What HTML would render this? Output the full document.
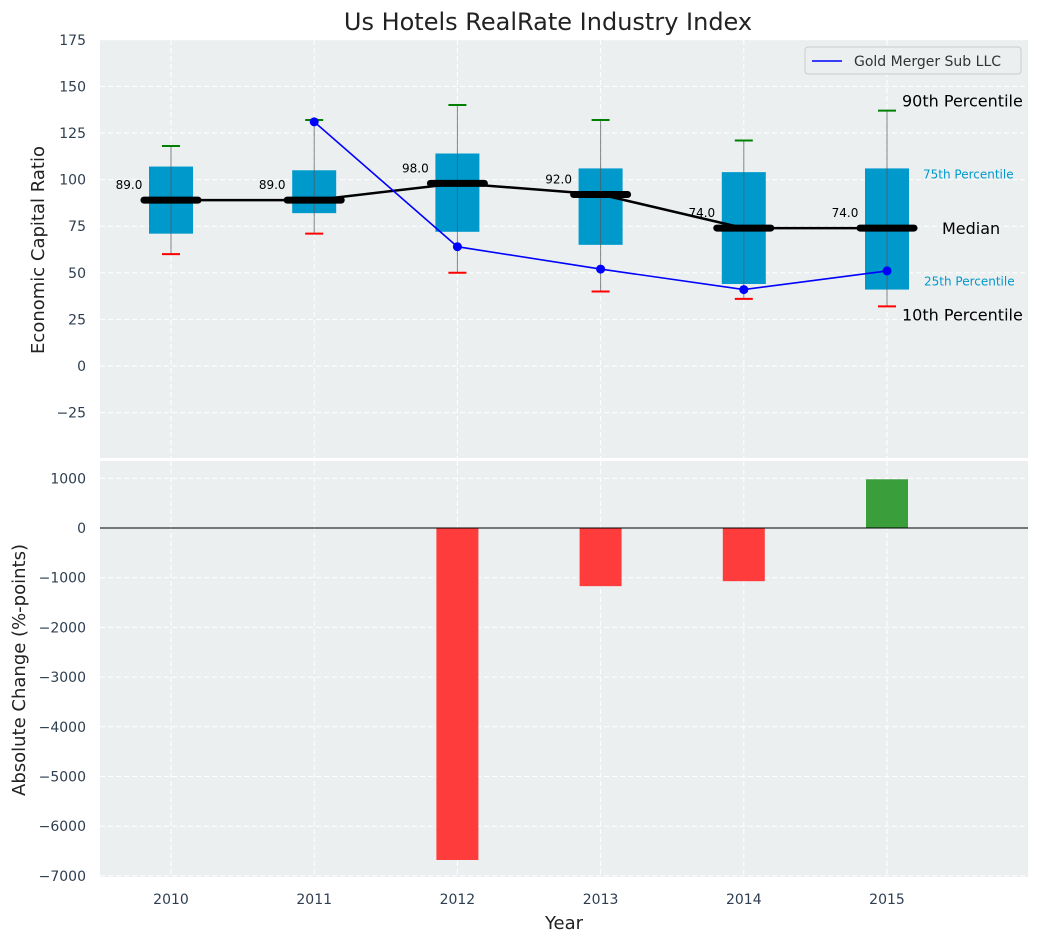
<!DOCTYPE html>
<html><head><meta charset="utf-8"><style>
body{margin:0;background:#fff;font-family:"Liberation Sans","DejaVu Sans",sans-serif}
svg text{font-family:"DejaVu Sans","Liberation Sans",sans-serif}
</style></head><body>
<svg id="c" width="1039" height="942" xmlns="http://www.w3.org/2000/svg"></svg>
<script>
const years=[2010,2011,2012,2013,2014,2015];
const p10=[60,71,50,40,36,32];
const q1=[71,82,72,65,44,41];
const med=[89,89,98,92,74,74];
const q3=[107,105,114,106,104,106];
const p90=[118,132,140,132,121,137];
const goldYears=[2011,2012,2013,2014,2015];
const goldVals=[131,64,52,41,51];
const barYears=[2012,2013,2014,2015];
const barVals=[-6680,-1170,-1070,980];
const topTicks=[-25,0,25,50,75,100,125,150,175];
const botTicks=[-7000,-6000,-5000,-4000,-3000,-2000,-1000,0,1000];

const svg=document.getElementById('c');
const NS='http://www.w3.org/2000/svg';
function el(t,a,txt){const e=document.createElementNS(NS,t);for(const k in a)e.setAttribute(k,a[k]);if(txt!==undefined)e.textContent=txt;svg.appendChild(e);return e;}
const X=i=>171+(i)*143.2;
const xi=y=>X(y-2010);
const Y1=v=>366-v*46.6/25;
const Y2=v=>528-v*0.0497;
const L=100,R=1028;

let e=el('rect',{x:L,y:40,width:R-L,height:418,fill:'#ebeff0'});

e=el('rect',{x:L,y:461,width:R-L,height:416,fill:'#ebeff0'});


topTicks.forEach(t=>{e=el('line',{x1:L,x2:R,y1:Y1(t),y2:Y1(t),stroke:'#fff','stroke-dasharray':'5,3','stroke-width':1});

e=el('text',{x:86,y:Y1(t)+5,'text-anchor':'end','font-size':14,fill:'#2e3e50'},(t<0?'\u2212'+(-t):t));
});
botTicks.forEach(t=>{e=el('line',{x1:L,x2:R,y1:Y2(t),y2:Y2(t),stroke:'#fff','stroke-dasharray':'5,3','stroke-width':1});

e=el('text',{x:86,y:Y2(t)+5,'text-anchor':'end','font-size':14,fill:'#2e3e50'},(t<0?'\u2212'+(-t):t));
});
years.forEach((y,i)=>{[[40,458],[461,877]].forEach(r=>{e=el('line',{x1:X(i),x2:X(i),y1:r[0],y2:r[1],stroke:'#fff','stroke-dasharray':'5,3'});
});
e=el('text',{x:X(i),y:904,'text-anchor':'middle','font-size':14,fill:'#2e3e50'},y);
});

years.forEach((y,i)=>{const x=X(i);
e=el('rect',{x:x-22,y:Y1(q3[i]),width:44,height:Y1(q1[i])-Y1(q3[i]),fill:'#0099cc'});

e=el('line',{x1:x,x2:x,y1:Y1(p90[i]),y2:Y1(p10[i]),stroke:'#555','stroke-width':1,opacity:0.7});

e=el('line',{x1:x-9,x2:x+9,y1:Y1(p90[i]),y2:Y1(p90[i]),stroke:'green','stroke-width':2});

e=el('line',{x1:x-9,x2:x+9,y1:Y1(p10[i]),y2:Y1(p10[i]),stroke:'red','stroke-width':2});

});
e=el('polyline',{points:years.map((y,i)=>X(i)+','+Y1(med[i])).join(' '),fill:'none',stroke:'#000','stroke-width':2.5});

years.forEach((y,i)=>{const x=X(i);
e=el('line',{x1:x-27,x2:x+27,y1:Y1(med[i]),y2:Y1(med[i]),stroke:'#000','stroke-width':7,'stroke-linecap':'round'});

e=el('text',{x:x-42,y:Y1(med[i])-11,'text-anchor':'middle','font-size':12,fill:'#000'},med[i].toFixed(1));
});
e=el('polyline',{points:goldYears.map((y,i)=>xi(y)+','+Y1(goldVals[i])).join(' '),fill:'none',stroke:'blue','stroke-width':1.6});

goldYears.forEach((y,i)=>{e=el('circle',{cx:xi(y),cy:Y1(goldVals[i]),r:4.5,fill:'blue'});
});
const lx=X(5);
[['90th Percentile',lx+15,Y1(p90[5])-4,16,'#000'],['75th Percentile',lx+36,Y1(q3[5])+10,12,'#0099cc'],['Median',lx+55,Y1(med[5])+6,16,'#000'],['25th Percentile',lx+37,Y1(q1[5])-4,12,'#0099cc'],['10th Percentile',lx+15,Y1(p10[5])+14,16,'#000']].forEach(a=>{
e=el('text',{x:a[1],y:a[2],'font-size':a[3],fill:a[4]},a[0]);
});
e=el('rect',{x:805,y:47,width:216,height:27,rx:3,fill:'#ebeff0',stroke:'#ccc'});

e=el('line',{x1:812,x2:842,y1:61,y2:61,stroke:'blue','stroke-width':1.6});

e=el('text',{x:854,y:66,'font-size':14,fill:'#333'},'Gold Merger Sub LLC');


barYears.forEach((y,i)=>{const v=barVals[i];
e=el('rect',{x:xi(y)-21,y:Math.min(Y2(v),Y2(0)),width:42,height:Math.abs(Y2(v)-Y2(0)),fill:v<0?'#ff3c3c':'#3a9e3a'});
});
e=el('line',{x1:L,x2:R,y1:Y2(0),y2:Y2(0),stroke:'#000','stroke-width':1});


e=el('text',{x:548,y:30,'text-anchor':'middle','font-size':24,fill:'#222'},'Us Hotels RealRate Industry Index');

e=el('text',{x:44,y:250,'text-anchor':'middle','font-size':18,fill:'#222',transform:'rotate(-90 44 250)'},'Economic Capital Ratio');

e=el('text',{x:25,y:670,'text-anchor':'middle','font-size':18,fill:'#222',transform:'rotate(-90 25 670)'},'Absolute Change (%-points)');

e=el('text',{x:564,y:929,'text-anchor':'middle','font-size':18,fill:'#222'},'Year');

</script>
</body></html>
